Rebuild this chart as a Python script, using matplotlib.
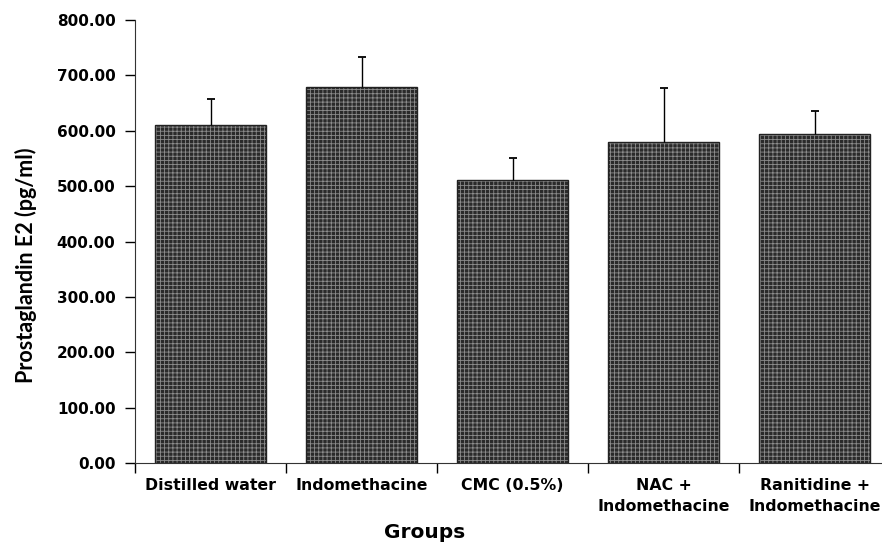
import matplotlib
matplotlib.use("Agg")
import matplotlib.pyplot as plt
import numpy as np

categories = ["Distilled water", "Indomethacine", "CMC (0.5%)", "NAC +\nIndomethacine", "Ranitidine +\nIndomethacine"]
values = [610, 679, 511, 579, 595]
errors = [48, 55, 39, 98, 40]
yticks = [0, 100, 200, 300, 400, 500, 600, 700, 800]

plt.rcParams["hatch.linewidth"] = 0.6

fig = plt.figure(figsize=(8.82, 5.45), dpi=100)
ax = fig.add_axes([135/882, 1-463/545, 755/882, (463-20)/545])

x = np.arange(len(categories))
lower = np.zeros(len(values))
# patterned fill
ax.bar(x, values, width=0.73, color="#2a2a2a", edgecolor="#8c8c8c", hatch="++++", linewidth=0, zorder=2)
ax.bar(x, values, width=0.73, fill=False, edgecolor="#222222", linewidth=1.0, zorder=3)
eb = ax.errorbar(x, values, yerr=[lower, errors], fmt="none", ecolor="black", elinewidth=1.0, capsize=3, capthick=1.3, zorder=4)
caps = eb[1]
if len(caps) == 2:
    caps[0].set_visible(False)

ax.set_xlim(-0.5, len(categories) - 0.5)
ax.set_ylim(0, 800)
ax.set_yticks(yticks)
ax.set_yticklabels([f"{v:.2f}" for v in yticks], fontsize=11, fontweight="bold", family="DejaVu Sans")
ax.tick_params(axis="y", direction="out", length=7, width=1, pad=7)

ax.set_xticks(x)
ax.set_xticklabels(categories, fontsize=11.3, fontweight="bold", family="DejaVu Sans", linespacing=1.45)
ax.tick_params(axis="x", length=0, pad=11)
ax.set_xticks(np.arange(len(categories) + 1) - 0.5, minor=True)
ax.tick_params(axis="x", which="minor", direction="out", length=7, width=1)

for s in ["top", "right"]:
    ax.spines[s].set_visible(False)
ax.spines["left"].set_color("#333333")
ax.spines["bottom"].set_color("#333333")

ax.set_xlabel("Groups", fontsize=14.5, fontweight="bold", family="DejaVu Sans")
ax.xaxis.set_label_coords((425-135)/755, -(523-463)/443)
ax.set_ylabel("Prostaglandin E2 (pg/ml)", fontsize=15.5, fontweight="bold", family="Lato")
ax.yaxis.set_label_coords(-(135-37)/755, (463-265)/443)

fig.savefig("out.png", dpi=100)
